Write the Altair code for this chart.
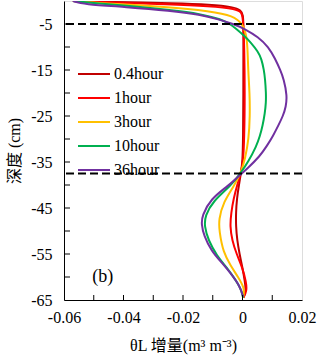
import altair as alt
import pandas as pd

series_names = ["0.4hour", "1hour", "3hour", "10hour", "36hour"]
series_colors = ["#C00000", "#FF0000", "#FFC000", "#00B050", "#7030A0"]

depth_04h = [0, -0.2, -0.5, -0.8, -1.3, -2.0, -3.0, -5, -10, -20, -30, -35, -37.3, -40, -43, -46, -49, -52, -55, -58, -61, -63, -64.5]
theta_04h = [-0.057, -0.045, -0.022, -0.011, -0.003, -0.0005, 0.0002, 0.0003, 0.0003, 0.0003, 0.0002, 0.0, -0.0005, -0.0012, -0.0019, -0.0022, -0.0022, -0.0018, -0.001, 0.0, 0.0008, 0.0012, 0.0003]

depth_1h = [0, -0.3, -0.7, -1.1, -1.7, -2.5, -3.5, -5, -10, -20, -30, -35, -37.3, -40, -43, -46, -49, -52, -55, -58, -61, -63, -64.5]
theta_1h = [-0.057, -0.045, -0.025, -0.011, -0.002, -0.0003, 0.0, 0.0003, 0.0006, 0.0008, 0.0006, 0.0002, -0.0005, -0.0018, -0.003, -0.0038, -0.0042, -0.0035, -0.002, 0.0, 0.0012, 0.0015, 0.0003]

depth_3h = [0, -0.4, -1.3, -2.2, -3.2, -5, -7, -10, -15, -20, -25, -30, -34.3, -37.3, -40.4, -43.7, -47.5, -50, -54.6, -57.5, -60, -62.5, -64.5]
theta_3h = [-0.057, -0.05, -0.0244, -0.011, -0.003, 0.0, 0.0012, 0.0017, 0.0019, 0.0024, 0.0025, 0.0021, 0.0009, -0.0005, -0.003, -0.0064, -0.008, -0.0078, -0.0065, -0.004, -0.0015, 0.0008, 0.0002]

depth_10h = [0, -0.5, -1.2, -1.95, -2.8, -4.0, -5, -6, -7.5, -9, -11, -12.6, -15, -17, -20, -22, -24.5, -27, -29.5, -31.5, -35, -37.3, -40.2, -43.5, -46.7, -49, -52, -55.4, -58, -60, -62.5, -64.5]
theta_10h = [-0.057, -0.049, -0.036, -0.0244, -0.0140, -0.0070, -0.0042, -0.0022, 0.0005, 0.0028, 0.0052, 0.0064, 0.0072, 0.0076, 0.0079, 0.0079, 0.0075, 0.0068, 0.0058, 0.0047, 0.0019, -0.0005, -0.004, -0.0099, -0.0126, -0.0128, -0.0115, -0.0086, -0.0052, -0.003, -0.0005, 0.0002]

depth_36h = [0, -0.7, -1.3, -2.1, -3.0, -3.9, -5, -6.1, -7.8, -10, -12.6, -15, -17, -20.6, -23, -25, -27, -29.3, -31.5, -33.7, -36.5, -38, -40.2, -43, -46.7, -48.5, -51, -54.3, -57, -59, -62, -64.3]
theta_36h = [-0.057, -0.0536, -0.039, -0.0244, -0.0140, -0.0085, -0.003, 0.0009, 0.0052, 0.0088, 0.0110, 0.0127, 0.0139, 0.0150, 0.0146, 0.0136, 0.0121, 0.0103, 0.0082, 0.0059, 0.0015, -0.0012, -0.0048, -0.0107, -0.0136, -0.0138, -0.013, -0.0105, -0.0068, -0.0042, -0.0008, 0.0002]

dashed_depths = [-5, -37.5]
ytick_values = [-60, -55, -50, -45, -40, -35, -30, -25, -20, -15, -10, -5]
xtick_values = [-0.05, -0.04, -0.03, -0.02, -0.01, 0.0, 0.01]
panel_text = ["(b)"]
panel_theta = [-0.047]
panel_depth = [-60]

FONT = "'Liberation Serif', 'Noto Sans CJK SC', serif"

rows = []
for name, ds, vs in zip(series_names,
                        [depth_04h, depth_1h, depth_3h, depth_10h, depth_36h],
                        [theta_04h, theta_1h, theta_3h, theta_10h, theta_36h]):
    for i, (d, v) in enumerate(zip(ds, vs)):
        rows.append({"series": name, "depth": d, "theta": v, "idx": i})
df = pd.DataFrame(rows)

xscale = alt.Scale(domain=[-0.06, 0.02], nice=False, zero=False)
yscale = alt.Scale(domain=[-65, 0], nice=False, zero=False)

x_axis = alt.Axis(
    title="θL 增量(m³ m⁻³)",
    values=[-0.06, -0.04, -0.02, 0.0, 0.02],
    labelExpr="datum.value == 0 ? '0' : (datum.value < 0 ? '-' : '') + format(abs(datum.value), '.2f')",
    ticks=False, grid=False, labelPadding=9, titlePadding=12,
    labelFontSize=16, titleFontSize=16, labelFont=FONT, titleFont=FONT,
    titleFontWeight="normal", labelColor="black", titleColor="black",
    domainColor="black", labelFlush=False,
)
y_axis = alt.Axis(
    title="深度 (cm)",
    values=[-65, -55, -45, -35, -25, -15, -5],
    labelExpr="(datum.value < 0 ? '-' : '') + abs(datum.value)",
    ticks=False, grid=False, labelPadding=12, titlePadding=8,
    labelFontSize=16, titleFontSize=16, labelFont=FONT, titleFont=FONT,
    titleFontWeight="normal", labelColor="black", titleColor="black",
    domainColor="black", labelFlush=False,
)

lines = alt.Chart(df).mark_line(strokeWidth=2, interpolate="basis", clip=True).encode(
    x=alt.X("theta:Q", scale=xscale, axis=x_axis),
    y=alt.Y("depth:Q", scale=yscale, axis=y_axis),
    color=alt.Color("series:N", scale=alt.Scale(domain=series_names, range=series_colors),
                    sort=series_names,
                    legend=alt.Legend(orient="none", legendX=21, legendY=64, title=None,
                                      symbolType="M-2,0H2", symbolSize=256, symbolStrokeWidth=2,
                                      symbolFillColor="transparent",
                                      labelFont=FONT, labelFontSize=16, labelColor="black",
                                      labelOffset=11, rowPadding=7, padding=0)),
    order=alt.Order("idx:Q"),
)

dashed = alt.Chart(pd.DataFrame({"d": dashed_depths})).mark_rule(
    color="black", strokeDash=[8, 4], strokeWidth=2
).encode(y=alt.Y("d:Q", scale=yscale, axis=y_axis))

yticks = alt.Chart(pd.DataFrame({"d": ytick_values})).mark_rule(color="black", strokeWidth=1).encode(
    y=alt.Y("d:Q", scale=yscale, axis=y_axis), x=alt.value(0), x2=alt.value(6)
)
xticks = alt.Chart(pd.DataFrame({"t": xtick_values})).mark_rule(color="black", strokeWidth=1).encode(
    x=alt.X("t:Q", scale=xscale, axis=x_axis), y=alt.value(299), y2=alt.value(294)
)

panel = alt.Chart(pd.DataFrame({"t": panel_text, "x": panel_theta, "y": panel_depth})).mark_text(
    font=FONT, fontSize=18, color="black"
).encode(
    x=alt.X("x:Q", scale=xscale, axis=x_axis),
    y=alt.Y("y:Q", scale=yscale, axis=y_axis),
    text="t:N",
)

chart = alt.layer(lines, dashed, yticks, xticks, panel).properties(
    width=238, height=299,
    autosize=alt.AutoSizeParams(type="none"),
    padding={"left": 64, "top": 1, "right": 18, "bottom": 56},
).configure_view(stroke="black", strokeWidth=1).configure(
    background="white", font=FONT
).configure_axis(labelFont=FONT, titleFont=FONT).configure_legend(labelFont=FONT)

chart.save("out.html", embed_options={"renderer": "svg", "actions": False})
